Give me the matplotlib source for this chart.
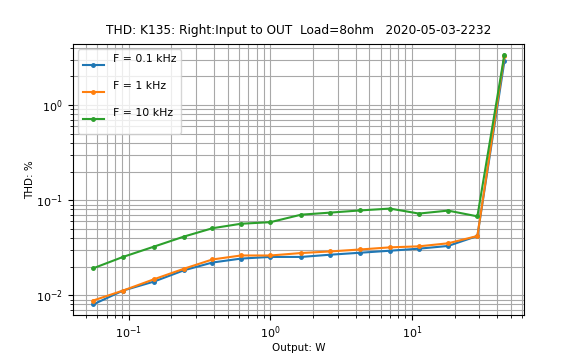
import numpy as np
import matplotlib
matplotlib.use("Agg")
import matplotlib.pyplot as plt

# output power (W) and THD (%)
power_w = [0.056, 0.091, 0.15, 0.245, 0.39, 0.62, 1.0, 1.65, 2.65, 4.3, 7.0, 11.2, 18.0, 29.0, 45.0]
thd_100hz = [0.0080, 0.0112, 0.0139, 0.0183, 0.0221, 0.0243, 0.0253, 0.0253,
             0.0267, 0.0280, 0.0294, 0.0309, 0.0330, 0.0420, 2.9]
thd_1khz = [0.0088, 0.0112, 0.0147, 0.0190, 0.0238, 0.0262, 0.0262, 0.0278,
            0.0289, 0.0303, 0.0319, 0.0327, 0.0352, 0.0420, 3.3]
thd_10khz = [0.0192, 0.0253, 0.0324, 0.0414, 0.0507, 0.0565, 0.0587, 0.0704,
             0.0740, 0.0780, 0.0816, 0.0723, 0.0777, 0.0676, 3.4]
labels = ["F = 0.1 kHz", "F = 1 kHz", "F = 10 kHz"]

fig = plt.figure(figsize=(5.82, 3.6), dpi=100)
ax = fig.add_axes([0.125, 0.125, 0.775, 0.753])

for thd, lab in zip([thd_100hz, thd_1khz, thd_10khz], labels):
    ax.plot(power_w, thd, marker=".", markersize=5, linewidth=1.5, label=lab + "\n")

ax.set_xscale("log")
ax.set_yscale("log")
ax.set_xlim(0.0402, 61.7)
ax.set_ylim(0.0062, 4.4)
ax.grid(True, which="both", color="#a8a8a8", linewidth=0.8)
ax.tick_params(labelsize=8)

ax.set_title("THD: K135: Right:Input to OUT  Load=8ohm   2020-05-03-2232", fontsize=8.7, pad=7)
ax.set_xlabel("Output: W", fontsize=7.5, labelpad=1)
ax.set_ylabel("THD: %", fontsize=7.5, labelpad=1)
ax.legend(loc="upper left", fontsize=7.8)

fig.savefig("out.png", dpi=100)
